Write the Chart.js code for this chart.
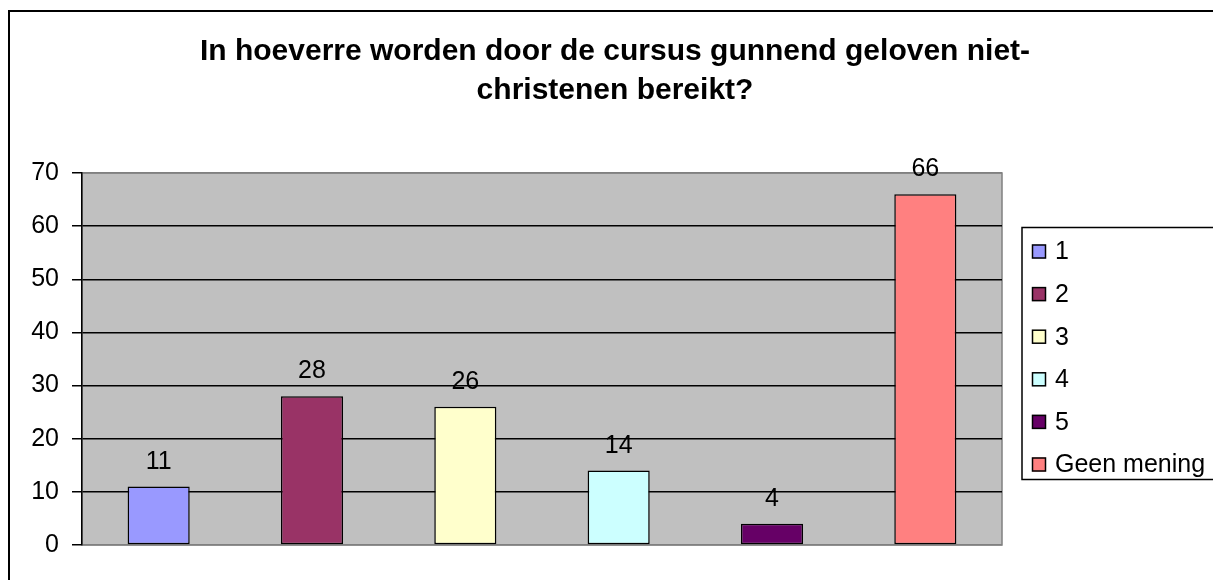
<!DOCTYPE html>
<html lang="nl">
<head>
  <meta charset="UTF-8">
  <title>Gunnend geloven</title>
  <script src="https://cdn.jsdelivr.net/npm/chart.js"></script>
  <style>
    body, html {
      margin: 0;
      padding: 0;
      width: 100%;
      height: 100%;
      overflow: hidden;
      background: #fff;
    }
    .frame {
      position: absolute;
      left: 8px;
      top: 10px;
      width: 1240px;
      height: 640px;
      border: 2px solid #000;
    }
    .chart-box {
      position: absolute;
      left: 0;
      top: 0;
      width: 1210px;
      height: 568px;
    }
  </style>
</head>
<body>

  <div class="frame">
    <div class="chart-box">
      <canvas id="surveyChart"></canvas>
    </div>
  </div>

  <script>
    // answers on the 1-5 scale plus "no opinion"
    const categories = ['1', '2', '3', '4', '5', 'Geen mening'];
    const counts = [11, 28, 26, 14, 4, 66];
    const barColors = ['#9999FF', '#993366', '#FFFFCC', '#CCFFFF', '#660066', '#FF8080'];
    const yMin = 0;
    const yMax = 70;
    const yStep = 10;

    const chartTitle = ['In hoeverre worden door de cursus gunnend geloven niet-', 'christenen bereikt?'];
    const fontFamily = '"Liberation Sans", Arial, sans-serif';

    // grey plot background with a darker frame, like the old office charts
    const plotBackground = {
      id: 'plotBackground',
      beforeDraw(chart) {
        const { ctx, chartArea: a } = chart;
        ctx.save();
        ctx.fillStyle = '#C0C0C0';
        ctx.fillRect(a.left, a.top, a.right - a.left, a.bottom - a.top);
        ctx.strokeStyle = '#808080';
        ctx.lineWidth = 1.5;
        ctx.strokeRect(a.left, a.top, a.right - a.left, a.bottom - a.top);
        ctx.restore();
      }
    };

    // value written above each bar
    const valueLabels = {
      id: 'valueLabels',
      afterDatasetsDraw(chart) {
        const { ctx } = chart;
        const meta = chart.getDatasetMeta(0);
        ctx.save();
        ctx.font = '25px ' + fontFamily;
        ctx.fillStyle = '#000';
        ctx.textAlign = 'center';
        ctx.textBaseline = 'alphabetic';
        meta.data.forEach((bar, i) => {
          ctx.fillText(String(counts[i]), bar.x, bar.y - 18);
        });
        ctx.restore();
      }
    };

    // boxed legend to the right of the plot, one entry per answer
    const sideLegend = {
      id: 'sideLegend',
      afterDraw(chart) {
        const { ctx, chartArea: a, width } = chart;
        const mid = (a.top + a.bottom) / 2;
        const step = 42.6;
        const firstY = mid - step * (categories.length - 1) / 2 - 1;
        const boxLeft = a.right + 20;
        const boxTop = firstY - 24;
        const boxBottom = firstY + step * (categories.length - 1) + 15;

        ctx.save();
        ctx.fillStyle = '#fff';
        ctx.fillRect(boxLeft, boxTop, width - boxLeft + 20, boxBottom - boxTop);
        ctx.strokeStyle = '#000';
        ctx.lineWidth = 1.5;
        ctx.strokeRect(boxLeft, boxTop, width - boxLeft + 20, boxBottom - boxTop);

        ctx.font = '25px ' + fontFamily;
        ctx.textAlign = 'left';
        ctx.textBaseline = 'middle';
        categories.forEach((label, i) => {
          const y = firstY + i * step;
          ctx.fillStyle = barColors[i];
          ctx.fillRect(boxLeft + 10, y - 7, 14, 14);
          ctx.lineWidth = 1.5;
          ctx.strokeStyle = '#000';
          ctx.strokeRect(boxLeft + 10.5, y - 6.5, 13, 13);
          ctx.fillStyle = '#000';
          ctx.fillText(label, boxLeft + 33, y + 1);
        });
        ctx.restore();
      }
    };

    const ctx = document.getElementById('surveyChart').getContext('2d');

    new Chart(ctx, {
      type: 'bar',
      data: {
        labels: categories,
        datasets: [{
          data: counts,
          backgroundColor: barColors,
          borderColor: '#000',
          borderWidth: 1.5,
          borderSkipped: false,
          categoryPercentage: 1,
          barPercentage: 0.405
        }]
      },
      options: {
        responsive: true,
        maintainAspectRatio: false,
        animation: false,
        layout: {
          padding: { top: 0, left: 0, right: 0, bottom: 35 }
        },
        scales: {
          x: {
            display: false
          },
          y: {
            min: yMin,
            max: yMax,
            ticks: {
              stepSize: yStep,
              color: '#000',
              padding: 13,
              font: { family: fontFamily, size: 25 }
            },
            grid: {
              tickLength: 10,
              tickColor: '#000',
              lineWidth: 1.5,
              color: c => (c.tick && (c.tick.value === yMin || c.tick.value === yMax)) ? '#808080' : '#000'
            },
            border: { display: true, color: '#000', width: 1.5 },
            afterFit(scale) { scale.width = 72; }
          },
          // empty axis that keeps room free for the legend
          legendRoom: {
            type: 'linear',
            position: 'right',
            display: true,
            ticks: { display: false },
            grid: { display: false },
            border: { display: false },
            afterFit(scale) { scale.width = 218; }
          }
        },
        plugins: {
          legend: { display: false },
          tooltip: { enabled: false },
          title: {
            display: true,
            text: chartTitle,
            color: '#000',
            font: { family: fontFamily, size: 30, weight: 'bold', lineHeight: 1.3 },
            padding: { top: 20, bottom: 63 }
          }
        }
      },
      plugins: [plotBackground, valueLabels, sideLegend]
    });
  </script>

</body>
</html>
